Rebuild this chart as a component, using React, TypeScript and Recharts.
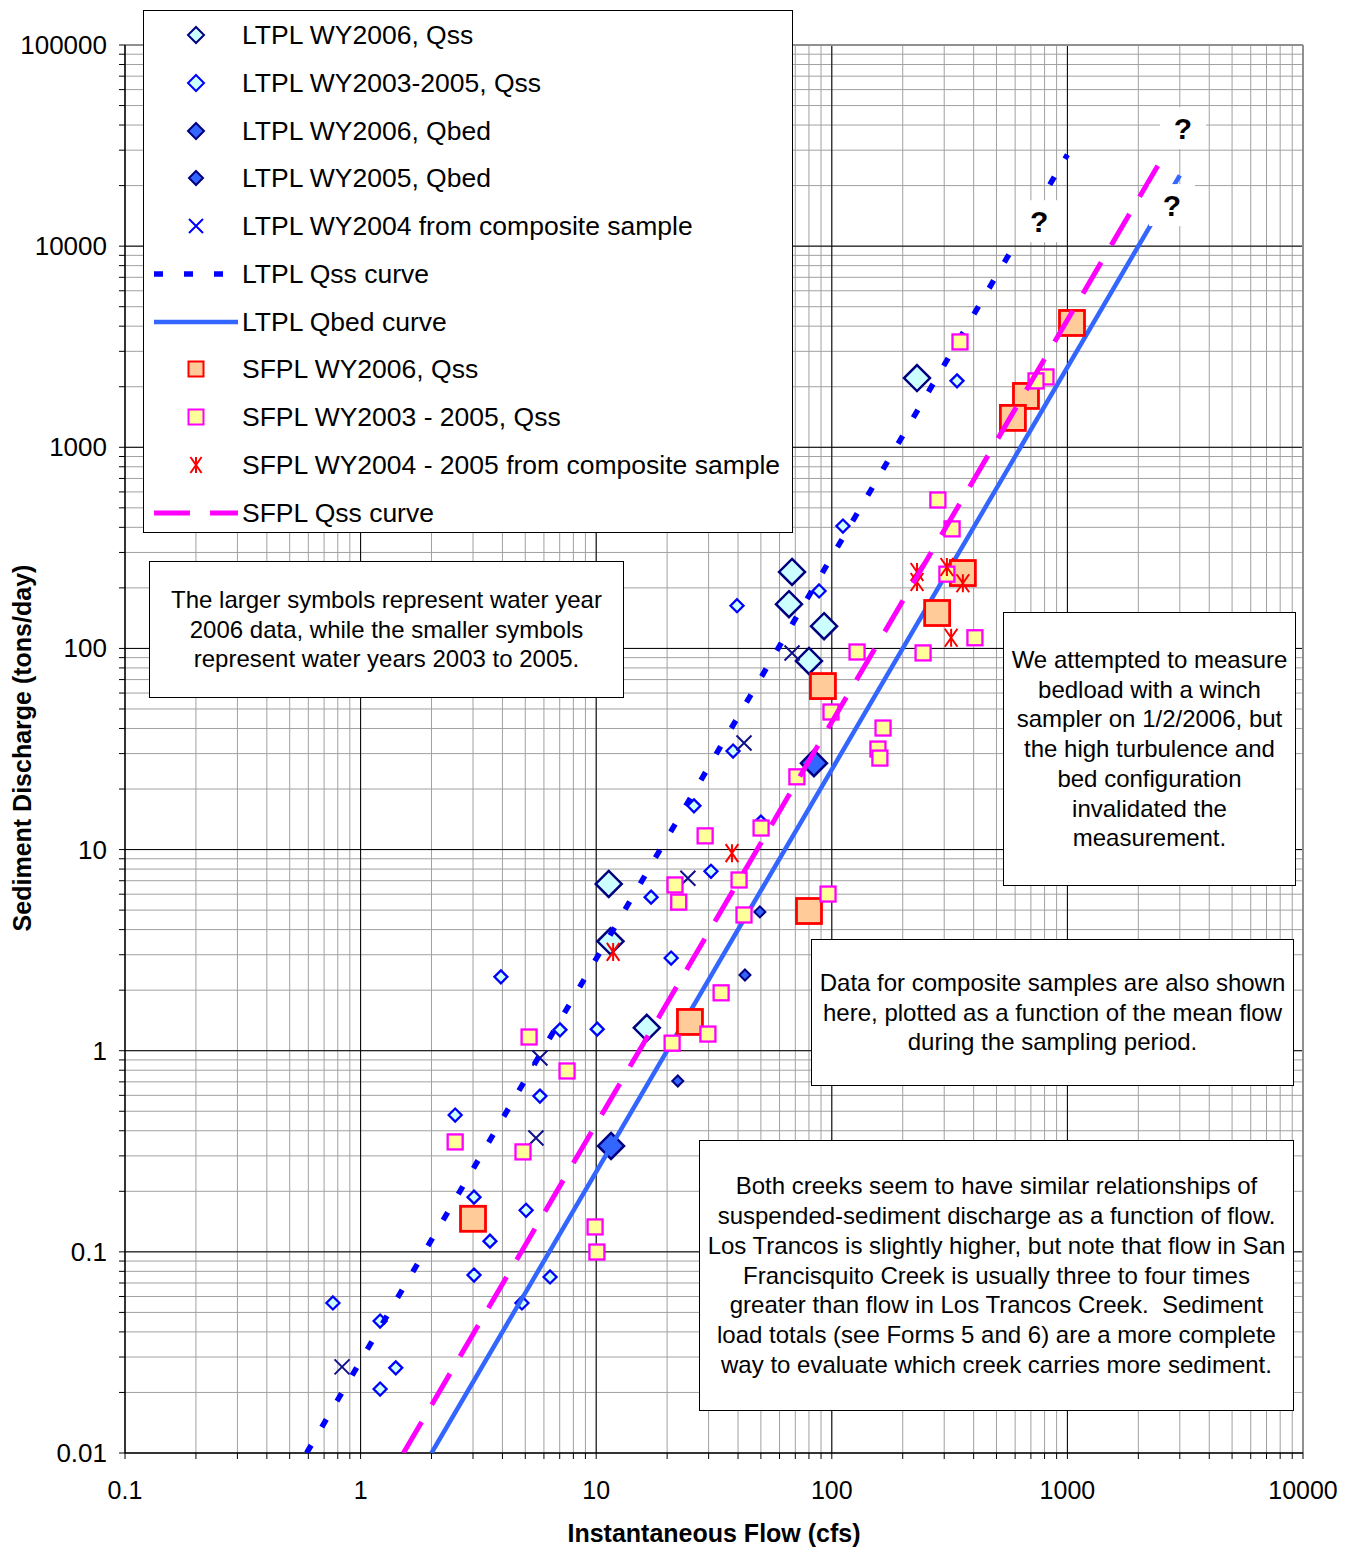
import React from 'react';
import { ComposedChart, Scatter, XAxis, YAxis, CartesianGrid, ReferenceLine } from 'recharts';

const FONT = "Arial, 'Liberation Sans', Helvetica, sans-serif";

// q = instantaneous flow (cfs), s = sediment discharge (tons/day)
const ltpl2006Qss = [
  { q: 230, s: 2210 }, { q: 67.8, s: 240 }, { q: 65.8, s: 166 }, { q: 92.7, s: 129 },
  { q: 80, s: 86.7 }, { q: 11.3, s: 6.75 }, { q: 11.5, s: 3.5 }, { q: 16.4, s: 1.3 },
];

const ltpl0305Qss = [
  { q: 340, s: 2140 }, { q: 111.5, s: 406 }, { q: 88.3, s: 193 }, { q: 39.6, s: 163 },
  { q: 38.1, s: 30.9 }, { q: 26, s: 16.5 }, { q: 50, s: 13.7 }, { q: 30.7, s: 7.8 },
  { q: 17.1, s: 5.8 }, { q: 20.8, s: 2.89 }, { q: 3.94, s: 2.33 }, { q: 7.02, s: 1.27 },
  { q: 10.1, s: 1.28 }, { q: 5.77, s: 0.595 }, { q: 2.52, s: 0.479 }, { q: 3.03, s: 0.187 },
  { q: 5.04, s: 0.161 }, { q: 3.54, s: 0.113 }, { q: 3.03, s: 0.0767 }, { q: 6.37, s: 0.075 },
  { q: 4.84, s: 0.0557 }, { q: 0.763, s: 0.0557 }, { q: 1.21, s: 0.0453 }, { q: 1.41, s: 0.0265 },
  { q: 1.21, s: 0.0208 },
];

const ltpl2006Qbed = [{ q: 84, s: 26.9 }, { q: 11.56, s: 0.336 }];

const ltpl2005Qbed = [{ q: 49.5, s: 4.9 }, { q: 42.8, s: 2.38 }, { q: 22.2, s: 0.707 }];

const ltpl2004Composite = [
  { q: 67.8, s: 94.9 }, { q: 42.4, s: 33.9 }, { q: 24.5, s: 7.2 },
  { q: 5.77, s: 0.92 }, { q: 5.55, s: 0.368 }, { q: 0.834, s: 0.0268 },
];

const ltplQssCurve = [{ q: 0.59, s: 0.01 }, { q: 1000, s: 28500 }];
const ltplQbedCurve = [{ q: 2.0, s: 0.01 }, { q: 3000, s: 22500 }];

const sfpl2006Qss = [
  { q: 1046, s: 4150 }, { q: 667, s: 1800 }, { q: 587, s: 1400 }, { q: 360, s: 237 },
  { q: 280, s: 150 }, { q: 91.7, s: 65 }, { q: 80, s: 4.95 }, { q: 25, s: 1.39 }, { q: 3.0, s: 0.146 },
];

const sfpl0305Qss = [
  { q: 350, s: 3340 }, { q: 811, s: 2237 }, { q: 736, s: 2138 }, { q: 282, s: 547 },
  { q: 324, s: 393 }, { q: 308, s: 234 }, { q: 405, s: 113 }, { q: 244, s: 95 },
  { q: 128, s: 96 }, { q: 99.2, s: 48.3 }, { q: 165, s: 40.2 }, { q: 157, s: 31.6 },
  { q: 160, s: 28.5 }, { q: 71.1, s: 23 }, { q: 29, s: 11.7 }, { q: 50.1, s: 12.8 },
  { q: 40.4, s: 7.06 }, { q: 21.6, s: 6.67 }, { q: 22.4, s: 5.48 }, { q: 96.4, s: 6.01 },
  { q: 42.4, s: 4.73 }, { q: 33.9, s: 1.94 }, { q: 21, s: 1.09 }, { q: 29.8, s: 1.21 },
  { q: 5.19, s: 1.17 }, { q: 7.52, s: 0.793 }, { q: 2.52, s: 0.352 }, { q: 4.89, s: 0.314 },
  { q: 9.89, s: 0.133 }, { q: 10.07, s: 0.0998 },
];

const sfplComposite = [
  { q: 230, s: 240 }, { q: 230, s: 214 }, { q: 308, s: 254 }, { q: 360, s: 211 },
  { q: 321, s: 113 }, { q: 37.7, s: 9.6 }, { q: 11.8, s: 3.1 },
];

const sfplQssCurve = [{ q: 1.52, s: 0.01 }, { q: 2600, s: 29000 }];

// where the curves run out, marked "?"
const questionMarks = [{ q: 758, s: 13300 }, { q: 2780, s: 16000 }, { q: 3095, s: 38600 }];

const xMajor = [0.1, 1, 10, 100, 1000, 10000];
const yMajor = [0.01, 0.1, 1, 10, 100, 1000, 10000, 100000];

function withMinor(majors: number[]) {
  const out: number[] = [];
  majors.forEach((d, i) => {
    out.push(d);
    if (i < majors.length - 1) for (let m = 2; m <= 9; m++) out.push(m * d);
  });
  return out;
}

const diamond = (r: number, fill: string, stroke: string, sw: number) => (p: any) => (
  <polygon
    points={`${p.cx},${p.cy - r} ${p.cx + r},${p.cy} ${p.cx},${p.cy + r} ${p.cx - r},${p.cy}`}
    fill={fill}
    stroke={stroke}
    strokeWidth={sw}
  />
);

const square = (h: number, fill: string, stroke: string, sw: number) => (p: any) => (
  <rect x={p.cx - h} y={p.cy - h} width={2 * h} height={2 * h} fill={fill} stroke={stroke} strokeWidth={sw} />
);

const cross = (h: number, color: string) => (p: any) => (
  <path
    d={`M${p.cx - h},${p.cy - h}L${p.cx + h},${p.cy + h}M${p.cx - h},${p.cy + h}L${p.cx + h},${p.cy - h}`}
    stroke={color}
    strokeWidth={2}
    fill="none"
  />
);

const asterisk = (h: number, color: string) => (p: any) => (
  <path
    d={`M${p.cx - h * 0.7},${p.cy - h}L${p.cx + h * 0.7},${p.cy + h}M${p.cx - h * 0.7},${p.cy + h}L${p.cx + h * 0.7},${p.cy - h}M${p.cx},${p.cy - h}L${p.cx},${p.cy + h}`}
    stroke={color}
    strokeWidth={2}
    fill="none"
  />
);

const noShape = () => <g />;

const questionBox = (p: any) => (
  <g>
    <rect x={p.cx - 23} y={p.cy - 21} width={46} height={42} fill="#ffffff" />
    <text x={p.cx} y={p.cy + 11} textAnchor="middle" fontSize={30} fontWeight="bold" fontFamily={FONT} fill="#000">
      ?
    </text>
  </g>
);

const LT_QSS_LINE = { stroke: '#0000ff', strokeWidth: 5.5, strokeDasharray: '9 21' };
const LT_QBED_LINE = { stroke: '#3366ff', strokeWidth: 4.5 };
const SF_QSS_LINE = { stroke: '#ff00ff', strokeWidth: 5, strokeDasharray: '36 20' };

const XTick = (props: any) => {
  const { x, y, payload } = props;
  if (!xMajor.includes(payload.value)) return <g />;
  return (
    <text x={x} y={y} dy={28} textAnchor="middle" fontSize={25} fontFamily={FONT} fill="#000">
      {String(payload.value)}
    </text>
  );
};

const YTick = (props: any) => {
  const { x, y, payload } = props;
  if (!yMajor.includes(payload.value)) return <g />;
  return (
    <text x={x} y={y} dy={9} textAnchor="end" fontSize={26} fontFamily={FONT} fill="#000">
      {String(payload.value)}
    </text>
  );
};

const legendItems = [
  { label: 'LTPL WY2006, Qss', icon: diamond(8, '#ccffff', '#000080', 2)({ cx: 52, cy: 15 }) },
  { label: 'LTPL WY2003-2005, Qss', icon: diamond(8, '#ccffff', '#0000ff', 2)({ cx: 52, cy: 15 }) },
  { label: 'LTPL WY2006, Qbed', icon: diamond(8, '#3366ff', '#000080', 2)({ cx: 52, cy: 15 }) },
  { label: 'LTPL WY2005, Qbed', icon: diamond(7, '#3366ff', '#000080', 2)({ cx: 52, cy: 15 }) },
  { label: 'LTPL WY2004 from composite sample', icon: cross(7, '#0000ff')({ cx: 52, cy: 15 }) },
  { label: 'LTPL Qss curve', icon: <line x1={10} x2={94} y1={15} y2={15} {...LT_QSS_LINE} /> },
  { label: 'LTPL Qbed curve', icon: <line x1={10} x2={94} y1={15} y2={15} {...LT_QBED_LINE} /> },
  { label: 'SFPL WY2006, Qss', icon: square(7.5, '#ffcc99', '#ff0000', 2)({ cx: 52, cy: 15 }) },
  { label: 'SFPL WY2003 - 2005, Qss', icon: square(7.5, '#ffff99', '#ff00ff', 2)({ cx: 52, cy: 15 }) },
  { label: 'SFPL WY2004 - 2005 from composite sample', icon: asterisk(8, '#ff0000')({ cx: 52, cy: 15 }) },
  { label: 'SFPL Qss curve', icon: <line x1={10} x2={94} y1={15} y2={15} {...SF_QSS_LINE} /> },
];

const boxStyle: React.CSSProperties = {
  position: 'absolute',
  background: '#fff',
  border: '1px solid #000',
  display: 'flex',
  alignItems: 'center',
  justifyContent: 'center',
  textAlign: 'center',
  fontSize: 24,
  lineHeight: '29.8px',
  whiteSpace: 'pre',
  boxSizing: 'border-box',
};

export default function App() {
  const xTicks = withMinor(xMajor);
  const yTicks = withMinor(yMajor);

  return (
    <div style={{ position: 'relative', width: 1340, height: 1539, fontFamily: FONT, color: '#000' }}>
      <ComposedChart width={1340} height={1539} margin={{ top: 37, right: 45, left: 17, bottom: 34 }}>
        <CartesianGrid stroke="#a0a0a0" strokeWidth={1} />
        <XAxis
          type="number"
          dataKey="q"
          scale="log"
          domain={[0.1, 10000]}
          allowDataOverflow
          ticks={xTicks}
          interval={0}
          height={60}
          tickSize={6}
          tickMargin={12}
          tick={<XTick />}
          axisLine={{ stroke: '#000', strokeWidth: 1.5 }}
          tickLine={{ stroke: '#000' }}
        />
        <YAxis
          type="number"
          dataKey="s"
          scale="log"
          domain={[0.01, 100000]}
          allowDataOverflow
          ticks={yTicks}
          interval={0}
          width={100}
          tickSize={6}
          tickMargin={12}
          tick={<YTick />}
          axisLine={{ stroke: '#000', strokeWidth: 1.5 }}
          tickLine={{ stroke: '#000' }}
        />
        {xMajor.slice(1, -1).map((v) => (
          <ReferenceLine key={`vx${v}`} x={v} stroke="#000" strokeWidth={1} />
        ))}
        {yMajor.slice(1, -1).map((v) => (
          <ReferenceLine key={`hy${v}`} y={v} stroke="#000" strokeWidth={1} />
        ))}
        <ReferenceLine x={10000} stroke="#909090" strokeWidth={2} />
        <ReferenceLine y={100000} stroke="#909090" strokeWidth={2} />

        <Scatter data={ltpl2006Qss} shape={diamond(13, '#ccffff', '#000080', 2.5)} isAnimationActive={false} />
        <Scatter data={ltpl0305Qss} shape={diamond(6.5, '#ccffff', '#0000ff', 2.3)} isAnimationActive={false} />
        <Scatter data={ltpl2006Qbed} shape={diamond(13, '#3366ff', '#000080', 2.5)} isAnimationActive={false} />
        <Scatter data={ltpl2005Qbed} shape={diamond(5.5, '#3366ff', '#000080', 2)} isAnimationActive={false} />
        <Scatter data={ltpl2004Composite} shape={cross(7.5, '#10108a')} isAnimationActive={false} />
        <Scatter data={ltplQssCurve} shape={noShape} line={LT_QSS_LINE} lineType="joint" isAnimationActive={false} />
        <Scatter data={ltplQbedCurve} shape={noShape} line={LT_QBED_LINE} lineType="joint" isAnimationActive={false} />
        <Scatter data={sfpl2006Qss} shape={square(12.5, '#ffcc99', '#ff0000', 2.8)} isAnimationActive={false} />
        <Scatter data={sfpl0305Qss} shape={square(7.5, '#ffff99', '#ff00ff', 2.3)} isAnimationActive={false} />
        <Scatter data={sfplComposite} shape={asterisk(9, '#ff0000')} isAnimationActive={false} />
        <Scatter data={sfplQssCurve} shape={noShape} line={SF_QSS_LINE} lineType="joint" isAnimationActive={false} />
        <Scatter data={questionMarks} shape={questionBox} isAnimationActive={false} />
      </ComposedChart>

      {/* legend */}
      <div style={{ position: 'absolute', left: 135, top: 2, width: 650, height: 523, background: '#fff', border: '1px solid #000', boxSizing: 'border-box' }}>
        {legendItems.map((item, i) => {
          const cy = 24 + i * 47.75;
          return (
            <div key={item.label}>
              <svg width={100} height={30} style={{ position: 'absolute', left: 0, top: cy - 15 }}>
                {item.icon}
              </svg>
              <div style={{ position: 'absolute', left: 98, top: cy - 15, height: 30, lineHeight: '30px', fontSize: 26.5, whiteSpace: 'nowrap' }}>
                {item.label}
              </div>
            </div>
          );
        })}
      </div>

      <div style={{ ...boxStyle, left: 141, top: 553, width: 475, height: 137 }}>
        {'The larger symbols represent water year\n2006 data, while the smaller symbols\nrepresent water years 2003 to 2005.'}
      </div>
      <div style={{ ...boxStyle, left: 995, top: 604, width: 293, height: 274 }}>
        {'We attempted to measure\nbedload with a winch\nsampler on 1/2/2006, but\nthe high turbulence and\nbed configuration\ninvalidated the\nmeasurement.'}
      </div>
      <div style={{ ...boxStyle, left: 803, top: 931, width: 483, height: 147 }}>
        {'Data for composite samples are also shown\nhere, plotted as a function of the mean flow\nduring the sampling period.'}
      </div>
      <div style={{ ...boxStyle, left: 691, top: 1132, width: 595, height: 271 }}>
        {'Both creeks seem to have similar relationships of\nsuspended-sediment discharge as a function of flow.\nLos Trancos is slightly higher, but note that flow in San\nFrancisquito Creek is usually three to four times\ngreater than flow in Los Trancos Creek.  Sediment\nload totals (see Forms 5 and 6) are a more complete\nway to evaluate which creek carries more sediment.'}
      </div>

      <div style={{ position: 'absolute', left: 117, width: 1178, top: 1510, lineHeight: '30px', textAlign: 'center', fontSize: 25, fontWeight: 'bold' }}>
        Instantaneous Flow (cfs)
      </div>
      <div style={{ position: 'absolute', left: -286, top: 725, width: 600, lineHeight: '30px', textAlign: 'center', fontSize: 25, fontWeight: 'bold', transform: 'rotate(-90deg)' }}>
        Sediment Discharge (tons/day)
      </div>
    </div>
  );
}
